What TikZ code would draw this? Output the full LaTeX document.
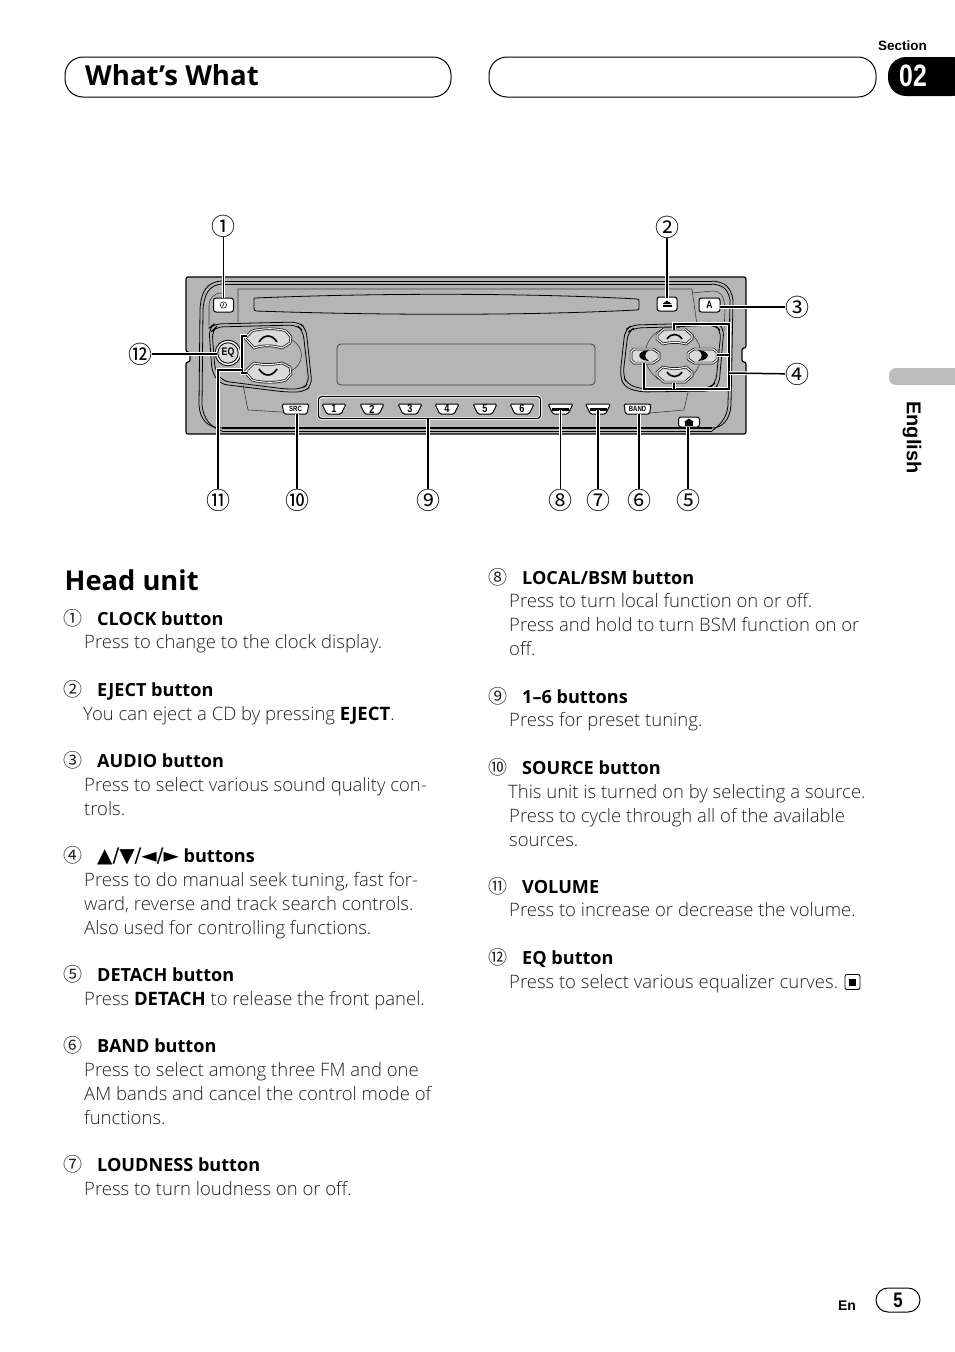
\documentclass[tikz,border=0pt]{standalone}
\usepackage{fontspec}
\setmainfont{Open Sans Light}[BoldFont={Open Sans Bold}]
\newfontfamily\djv{DejaVu Sans}
\newfontfamily\cjk{Noto Sans CJK SC}
\newfontfamily\lib{Liberation Sans Bold}
\newfontfamily\libn{Liberation Sans Bold}[FakeStretch=0.8]
\newfontfamily\opb{Open Sans Bold}
\usetikzlibrary{shapes.geometric}
\definecolor{plate}{HTML}{B5B5B5}
\definecolor{btnfill}{HTML}{DADADA}
\definecolor{txt}{HTML}{222222}
\definecolor{tabgray}{HTML}{BDBDBD}
\tikzset{
  bodytxt/.style={anchor=base west,inner sep=0pt,text=txt,font=\fontsize{18.5}{20}\selectfont},
  headtxt/.style={anchor=base west,inner sep=0pt,font=\opb\fontsize{18.1}{20}\selectfont},
  numtxt/.style={anchor=center,inner sep=0pt,text=txt,font=\cjk\fontsize{19}{20}\selectfont},
  calltxt/.style={anchor=center,inner sep=0pt,font=\cjk\fontsize{24}{24}\selectfont},
  pill/.style={draw=black,line width=1pt,rounded corners=18pt,fill=white},
  leader/.style={line width=1.5pt,black,preaction={draw=white,line width=3.6pt}},
  devline/.style={draw=black,line width=.8pt},
  thinline/.style={draw=black!75,line width=.6pt},
  btn/.style={draw=black,line width=.7pt,double=white,double distance=1.1pt,fill=btnfill},
  rbtn/.style={draw=black,line width=1pt,fill=white,rounded corners=2.5pt,inner sep=0pt},
  tbtn/.style={trapezium,trapezium angle=78,shape border rotate=180,trapezium stretches=true,draw=black,line width=1pt,fill=white,rounded corners=1.5pt,inner sep=0pt,minimum height=10pt,font=\libn\fontsize{11.5}{10}\selectfont}
}
\begin{document}
\begin{tikzpicture}[x=1pt,y=-1pt]
\useasboundingbox (0,0) rectangle (954,1352);
% header
\draw[pill] (65,57) rectangle (451,97);
\draw[pill] (489,57) rectangle (876,97);
\node[anchor=base west,inner sep=0pt,font=\opb\fontsize{27.6}{30}\selectfont] (title) at (85,85) {What’s What};
\node[anchor=center,inner sep=0pt,font=\lib\fontsize{13.5}{14}\selectfont] (section) at (902.5,46) {Section};
\fill[black,rounded corners=18pt] (888,57) -- (970,57) -- (970,96) -- (888,96) -- cycle;
\node[anchor=center,inner sep=0pt,text=white,font=\libn\fontsize{31}{32}\selectfont] (secnum) at (913,76) {02};
\fill[tabgray,rounded corners=7pt] (889,368) -- (970,368) -- (970,385) -- (889,385) -- cycle;
\node[anchor=center,inner sep=0pt,rotate=-90,font=\lib\fontsize{20}{20}\selectfont] (lang) at (912,437.5) {English};
% device
\fill[plate,draw=black,line width=1.2pt,rounded corners=2pt] (186,277) -- (746,277) -- (746,348) -- (742,348) -- (742,362) -- (746,362) -- (746,434) -- (186,434) -- (186,362) -- (190,362) -- (190,352) -- (186,352) -- cycle;
\draw[devline] (222,281) -- (712,281);
\draw[devline] (222,284) -- (712,284);
\draw[devline,line width=1.1pt] (222,428) -- (712,428);
\draw[devline] (222,431) -- (712,431);
% outer arcs
\draw[devline] (222,281) .. controls (206,282) and (201,292) .. (200,310) -- (199,405) .. controls (200,420) and (208,428) .. (222,428);
\draw[devline] (222,284) .. controls (209,285) and (204,294) .. (203,310) -- (202,405) .. controls (203,418) and (211,428) .. (222,431);
\draw[devline] (712,281) .. controls (726,282) and (731,288) .. (733,300) -- (731,405) .. controls (730,420) and (722,428) .. (712,428);
\draw[devline] (712,284) .. controls (724,285) and (728,290) .. (730,300) -- (728,405) .. controls (727,418) and (720,425) .. (712,431);
% inner frame
\draw[thinline] (222,293) .. controls (214,293) and (209,298) .. (209,306) -- (209,325);
\draw[thinline] (238,322) -- (238,289) -- (692,289) -- (697,325);
\draw[thinline] (692,293) -- (712,291) .. controls (722,291) and (724,296) .. (725,310) -- (724,330);
% slot
\draw[devline,fill=plate] (255,298) .. controls (400,292) and (550,294) .. (637,299) .. controls (639,299) and (639,300) .. (639,302) -- (639,308) .. controls (639,310) and (638,310) .. (636,310) .. controls (540,315) and (400,316) .. (256,311) .. controls (254,310) and (254,310) .. (254,308) -- (254,300) .. controls (254,298) and (254,298) .. (255,298);
% display
\draw[thinline,line width=.8pt,fill=plate,rounded corners=4pt] (337,344) rectangle (595,385);
% left panel
\draw[devline,rounded corners=7pt] (255,323) -- (298,322) -- (306,328) -- (312,385) -- (304,392) -- (285,392) -- (220,384) -- (212,372) -- (209,328) -- (214,324) -- cycle;
\draw[devline,rounded corners=7pt] (255,326) -- (297,325) -- (303,331) -- (309,383) -- (302,389) -- (285,389) -- (222,381) -- (215,370) -- (212,331) -- (216,327) -- cycle;
\draw[thinline] (243,385) -- (248,410) -- (282,412);
\draw[thinline] (288,338) .. controls (306,345) and (306,366) .. (288,372);
% right panel
\draw[devline,rounded corners=7pt] (670,324) -- (716,322) -- (724,328) -- (719,385) -- (712,391) -- (640,392) -- (624,387) -- (620,375) -- (625,330) -- (632,325) -- cycle;
\draw[devline,rounded corners=7pt] (670,327) -- (715,325) -- (721,331) -- (716,382) -- (710,388) -- (641,389) -- (627,384) -- (623,375) -- (628,332) -- (634,328) -- cycle;
\draw[thinline] (688,392) -- (684,410) -- (650,413);
\draw[thinline] (673,355) circle (28);
% volume buttons
\draw[btn] (245,338) -- (252,331) .. controls (262,328) and (278,328) .. (286,331) -- (291,337) -- (290,343) -- (282,348) .. controls (272,345) and (262,345) .. (254,348) -- cycle;
\draw[btn] (245,372) -- (254,363) .. controls (262,365) and (272,365) .. (282,363) -- (290,367) -- (291,374) -- (286,380) .. controls (278,383) and (262,383) .. (252,380) -- cycle;
\draw[black,line width=1.6pt] (259,342) .. controls (264,334) and (272,334) .. (277,342);
\draw[black,line width=1.6pt] (259,369) .. controls (264,377) and (272,377) .. (277,369);
% EQ
\node[circle,draw=black,line width=1pt,double=white,double distance=1.4pt,fill=btnfill,minimum size=23pt,inner sep=0pt,font=\libn\fontsize{11}{11}\selectfont] (eq) at (228,353) {EQ};
% cross buttons
\draw[btn] (657,335) -- (664,329) -- (685,329) -- (692,335) -- (692,339) -- (686,344) .. controls (680,342) and (670,342) .. (663,344) -- (657,339) -- cycle;
\draw[btn] (657,372) -- (663,367) .. controls (670,369) and (680,369) .. (686,367) -- (692,372) -- (692,376) -- (685,382) -- (664,382) -- (657,376) -- cycle;
\draw[btn] (631,352) -- (634,349) -- (653,349) -- (659,353) -- (659,359) -- (653,363) -- (634,363) -- (631,360) -- cycle;
\draw[btn] (688,353) -- (694,349) -- (713,349) -- (717,352) -- (717,360) -- (713,363) -- (694,363) -- (688,359) -- cycle;
\draw[black,line width=1.6pt] (667,339) .. controls (671,333) and (678,333) .. (682,339);
\draw[black,line width=1.6pt] (667,372) .. controls (671,378) and (678,378) .. (682,372);
\fill[black] (649,350) .. controls (636,351) and (636,360) .. (649,361) .. controls (644,358) and (644,353) .. (649,350) -- cycle;
\fill[black] (698,350) .. controls (711,351) and (711,360) .. (698,361) .. controls (703,358) and (703,353) .. (698,350) -- cycle;
% top buttons
\node[rbtn,minimum width=20pt,minimum height=14pt] (bclock) at (223.5,305) {};
\draw[black,line width=.5pt] (bclock.center) circle (3.2);
\draw[black,line width=.5pt] (223.5,303) -- (223.5,305) -- (222,306.5);
\node[rbtn,minimum width=20pt,minimum height=14pt] (beject) at (667,304) {};
\fill[black] (662.5,304) -- (667,300.5) -- (671.5,304) -- cycle;
\fill[black] (662.5,305) rectangle (671.5,307);
\node[rbtn,minimum width=21pt,minimum height=14pt,font=\libn\fontsize{10.5}{10}\selectfont] (baudio) at (709.5,305) {A};
% preset group
\draw[draw=white,line width=3pt,rounded corners=3pt] (318.5,396.5) rectangle (540.5,418.5);
\draw[draw=black,line width=1.2pt,rounded corners=3pt] (318.5,396.5) rectangle (540.5,418.5);
\node[tbtn,minimum width=24pt] (p1) at (334,409) {1};
\node[tbtn,minimum width=24pt] (p2) at (372,409) {2};
\node[tbtn,minimum width=24pt] (p3) at (410,409) {3};
\node[tbtn,minimum width=24pt] (p4) at (447,409) {4};
\node[tbtn,minimum width=24pt] (p5) at (485,409) {5};
\node[tbtn,minimum width=24pt] (p6) at (522,409) {6};
\node[tbtn,minimum width=27pt,font=\libn\fontsize{7.5}{7}\selectfont] (bsrc) at (295.5,409) {SRC};
\node[tbtn,minimum width=25pt] (blocal) at (560.5,409) {\phantom{1}};
\node[tbtn,minimum width=25pt] (bloud) at (598,409) {\phantom{1}};
\node[tbtn,minimum width=27pt,font=\libn\fontsize{7.5}{7}\selectfont] (bband) at (637.5,409) {BAND};
\fill[black] (552,408) rectangle (569,410.5);
\fill[black] (590,408) rectangle (607,410.5);
\node[rbtn,minimum width=21pt,minimum height=10pt] (bdetach) at (689,422) {};
\fill[black] (684,422) -- (689,418.5) -- (694,422) -- cycle;
\fill[black] (685,422) rectangle (693,425.5);
% volume and cross anchors
\coordinate (vjoin) at (242,370);
\coordinate (vup) at (247,336);
\coordinate (vdown) at (247,373);
\coordinate (vcor) at (242,336);
\coordinate (vcor2) at (242,373);
\coordinate (ctop) at (674,324);
\coordinate (ctopst) at (674,330);
\coordinate (cright) at (729,324);
\coordinate (cbot) at (729,389);
\coordinate (cleft) at (644,389);
\coordinate (cleftst) at (644,363);
\coordinate (cdownst) at (674,383);
\coordinate (cbotm) at (674,389);
\coordinate (crightst) at (717,355);
\coordinate (crightm) at (729,355);
\coordinate (c4) at (729,373);
\coordinate (m11) at (218,370);
% callouts
\node[calltxt] (n1) at (223.5,226) {①};
\node[calltxt] (n2) at (667,227) {②};
\node[calltxt] (n3) at (797,307) {③};
\node[calltxt] (n4) at (797,374) {④};
\node[calltxt] (n5) at (688,500) {⑤};
\node[calltxt] (n6) at (639,500) {⑥};
\node[calltxt] (n7) at (598,500) {⑦};
\node[calltxt] (n8) at (560.5,500) {⑧};
\node[calltxt] (n9) at (428,500) {⑨};
\node[calltxt] (n10) at (297,500) {⑩};
\node[calltxt] (n11) at (218,500) {⑪};
\node[calltxt] (n12) at (140,354) {⑫};
\coordinate (t1) at (223.5,298);
\coordinate (t2) at (667,298);
\coordinate (t3) at (720,307);
\coordinate (t5) at (688,426.5);
\coordinate (t6) at (639,414);
\coordinate (t7) at (598,410);
\coordinate (t8) at (560.5,410);
\coordinate (t9) at (428,419);
\coordinate (t10) at (297,413.5);
\coordinate (t12) at (217,354);
\draw[leader] (n1) -- (t1);
\draw[leader] (n2) -- (t2);
\draw[leader] (n3) -- (t3);
\draw[leader] (n5) -- (t5);
\draw[leader] (n6) -- (t6);
\draw[leader] (n7) -- (t7);
\draw[leader] (n8) -- (t8);
\draw[leader] (n9) -- (t9);
\draw[leader] (n10) -- (t10);
\draw[leader] (n12) -- (t12);
\draw[leader] (ctopst) -- (ctop) -- (cright) -- (cbot) -- (cleft) -- (cleftst);
\draw[leader] (cdownst) -- (cbotm);
\draw[leader] (crightst) -- (crightm);
\draw[leader] (n4) -- (c4);
\draw[leader] (vup) -- (vcor) -- (vcor2) -- (vdown);
\draw[leader] (n11) -- (m11) -- (vjoin);
% head unit
\node[anchor=base west,inner sep=0pt,font=\opb\fontsize{27.3}{30}\selectfont] (huh) at (64.5,590) {Head unit};
% left column
\node[numtxt] (l1) at (73,618) {①};
\node[headtxt] (h1) at (97,625) {CLOCK button};
\node[bodytxt] (b1) at (84,648.5) {Press to change to the clock display.};
\node[numtxt] (l2) at (73,689) {②};
\node[headtxt] (h2) at (97,696) {EJECT button};
\node[bodytxt] (b2) at (83,720) {You can eject a CD by pressing \textcolor{black}{\bfseries EJECT}.};
\node[numtxt] (l3) at (73,760) {③};
\node[headtxt] (h3) at (97,767) {AUDIO button};
\node[bodytxt] (b3a) at (84,791) {Press to select various sound quality con-};
\node[bodytxt] (b3b) at (84,815) {trols.};
\node[numtxt] (l4) at (73,855) {④};
\node[headtxt] (h4) at (97,862) {{\djv\fontsize{20}{14}\selectfont ▲/▼/◄/►} buttons};
\node[bodytxt] (b4a) at (84,886) {Press to do manual seek tuning, fast for-};
\node[bodytxt] (b4b) at (84,910) {ward, reverse and track search controls.};
\node[bodytxt] (b4c) at (84,934) {Also used for controlling functions.};
\node[numtxt] (l5) at (73,974) {⑤};
\node[headtxt] (h5) at (97,981) {DETACH button};
\node[bodytxt] (b5) at (84,1005) {Press \textcolor{black}{\bfseries DETACH} to release the front panel.};
\node[numtxt] (l6) at (73,1045) {⑥};
\node[headtxt] (h6) at (97,1052) {BAND button};
\node[bodytxt] (b6a) at (84,1076) {Press to select among three FM and one};
\node[bodytxt] (b6b) at (84,1100) {AM bands and cancel the control mode of};
\node[bodytxt] (b6c) at (84,1124) {functions.};
\node[numtxt] (l7) at (73,1164) {⑦};
\node[headtxt] (h7) at (97,1171) {LOUDNESS button};
\node[bodytxt] (b7) at (84,1195) {Press to turn loudness on or off.};
% right column
\node[numtxt] (l8) at (498,577) {⑧};
\node[headtxt] (h8) at (522,584) {LOCAL/BSM button};
\node[bodytxt] (b8a) at (509,607) {Press to turn local function on or off.};
\node[bodytxt] (b8b) at (509,631) {Press and hold to turn BSM function on or};
\node[bodytxt] (b8c) at (509,655) {off.};
\node[numtxt] (l9) at (498,696) {⑨};
\node[headtxt] (h9) at (522,703) {1–6 buttons};
\node[bodytxt] (b9) at (509,726) {Press for preset tuning.};
\node[numtxt] (l10) at (498,767) {⑩};
\node[headtxt] (h10) at (522,774) {SOURCE button};
\node[bodytxt] (b10a) at (508,798) {This unit is turned on by selecting a source.};
\node[bodytxt] (b10b) at (509,822) {Press to cycle through all of the available};
\node[bodytxt] (b10c) at (509,846) {sources.};
\node[numtxt] (l11) at (498,886) {⑪};
\node[headtxt] (h11) at (522,893) {VOLUME};
\node[bodytxt] (b11) at (509,916) {Press to increase or decrease the volume.};
\node[numtxt] (l12) at (498,957) {⑫};
\node[headtxt] (h12) at (522,964) {EQ button};
\node[bodytxt] (b12) at (509,988) {Press to select various equalizer curves.};
\node[draw=black,line width=.9pt,rounded corners=2pt,minimum size=15pt,inner sep=0pt] (endbox) at (852.5,982) {};
\fill[black] (849,978.5) rectangle (856,985.5);
% page number
\draw[draw=black,line width=1pt,rounded corners=12pt,fill=white] (876,1288) rectangle (920,1312);
\node[anchor=center,inner sep=0pt,font=\libn\fontsize{21}{20}\selectfont] (pg) at (898,1300) {5};
\node[anchor=center,inner sep=0pt,font=\lib\fontsize{14}{16}\selectfont] (en) at (847,1306) {En};
\end{tikzpicture}
\end{document}
